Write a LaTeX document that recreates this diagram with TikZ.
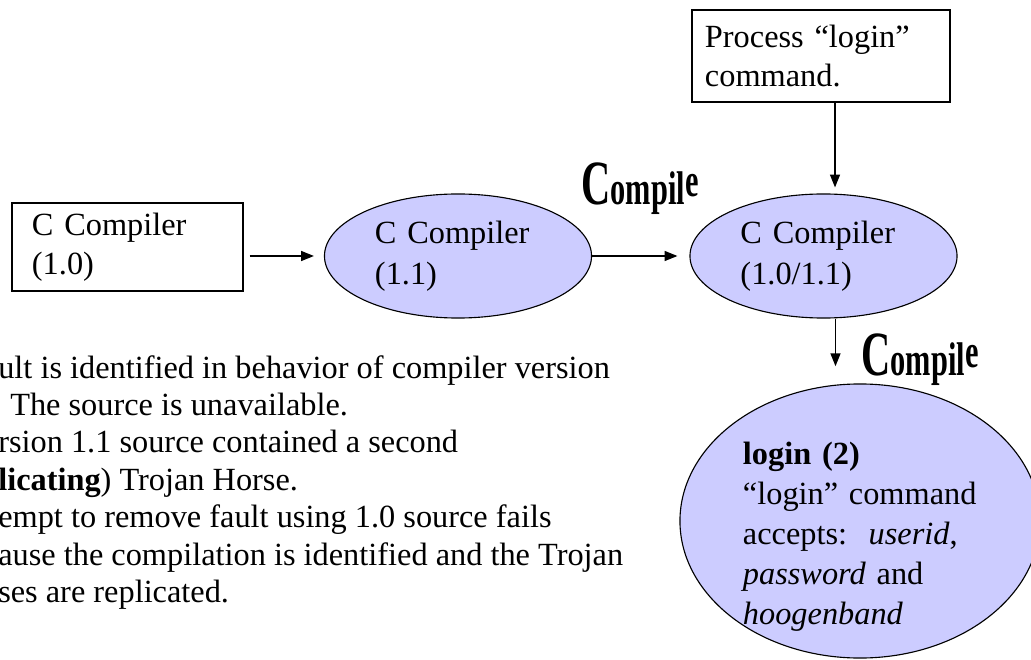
\documentclass[tikz,border=0pt]{standalone}
\usepackage{fontspec}
\setmainfont{Liberation Serif}
\usepackage{tikz}
\usetikzlibrary{shapes.geometric, arrows.meta}
\definecolor{lavender}{HTML}{CCCCFF}
\newcommand{\compileart}{\scalebox{0.72}[1.12]{\bfseries\fontsize{40}{40}\selectfont C\fontsize{30}{30}\selectfont ompil\raisebox{5pt}{e}}}
\tikzstyle{plainbox} = [rectangle, draw=black, line width=0.8pt, align=left, font=\fontsize{23}{28}\selectfont]
\tikzstyle{compnode} = [ellipse, draw=black, fill=lavender, line width=0.8pt, minimum width=6.675cm, minimum height=3.1cm, text width=4.15cm, align=left, font=\fontsize{23}{29}\selectfont]
\tikzstyle{arrow} = [line width=0.9pt, -{Triangle[length=0.32cm, width=0.25cm]}]

\begin{document}
\begin{tikzpicture}[x=0.025cm, y=0.025cm]
	\useasboundingbox (0,0) rectangle (1031,659);
	\node (c10) [plainbox, inner xsep=0.5cm, text width=4.775cm, minimum height=2.2cm] at (127.5,412) {C Compiler\\(1.0)};
	\node (c11) [compnode] at (458,403) {C Compiler\\(1.1)};
	\node (c1011) [compnode] at (823.5,403) {C Compiler\\(1.0/1.1)};
	\node (proc) [plainbox, inner xsep=0.325cm, text width=5.8cm, minimum height=2.3cm] at (821,603) {Process “login”\\command.};
	\node (login) [ellipse, draw=black, fill=lavender, line width=0.8pt, minimum width=9cm, minimum height=6.85cm] at (860,138) {};
	\node (logintxt) [inner sep=0pt, text width=5.85cm, align=left, font=\fontsize{23}{28.5}\selectfont] at (860,122) {\textbf{login (2)}\\“login” command\\accepts:\ \ \textit{userid},\\\textit{password} and\\\textit{hoogenband}};
	\node (cmp1) at (640,470) {\compileart};
	\node (cmp2) at (920,299) {\compileart};
	\node (notes) [anchor=north west, inner sep=0pt, align=left, font=\fontsize{23}{26.6}\selectfont] at (-2,304) {ult is identified in behavior of compiler version\\\hspace*{0.3cm}The source is unavailable.\\rsion 1.1 source contained a second\\\textbf{licating}) Trojan Horse.\\empt to remove fault using 1.0 source fails\\ause the compilation is identified and the Trojan\\ses are replicated.};
	\draw [arrow, shorten <=0.15cm, shorten >=0.25cm] (c10.east |- c11.west) -- (c11.west);
	\draw [arrow, shorten >=0.3cm] (c11.east) -- (c1011.west);
	\draw [arrow, shorten >=0.15cm] ([xshift=0.35cm]proc.south) -- ([xshift=0.35cm]proc.south |- c1011.north);
	\draw [arrow, shorten >=0.43cm] ([xshift=0.3cm]c1011.south) -- ([xshift=0.3cm]c1011.south |- login.north);
\end{tikzpicture}
\end{document}
